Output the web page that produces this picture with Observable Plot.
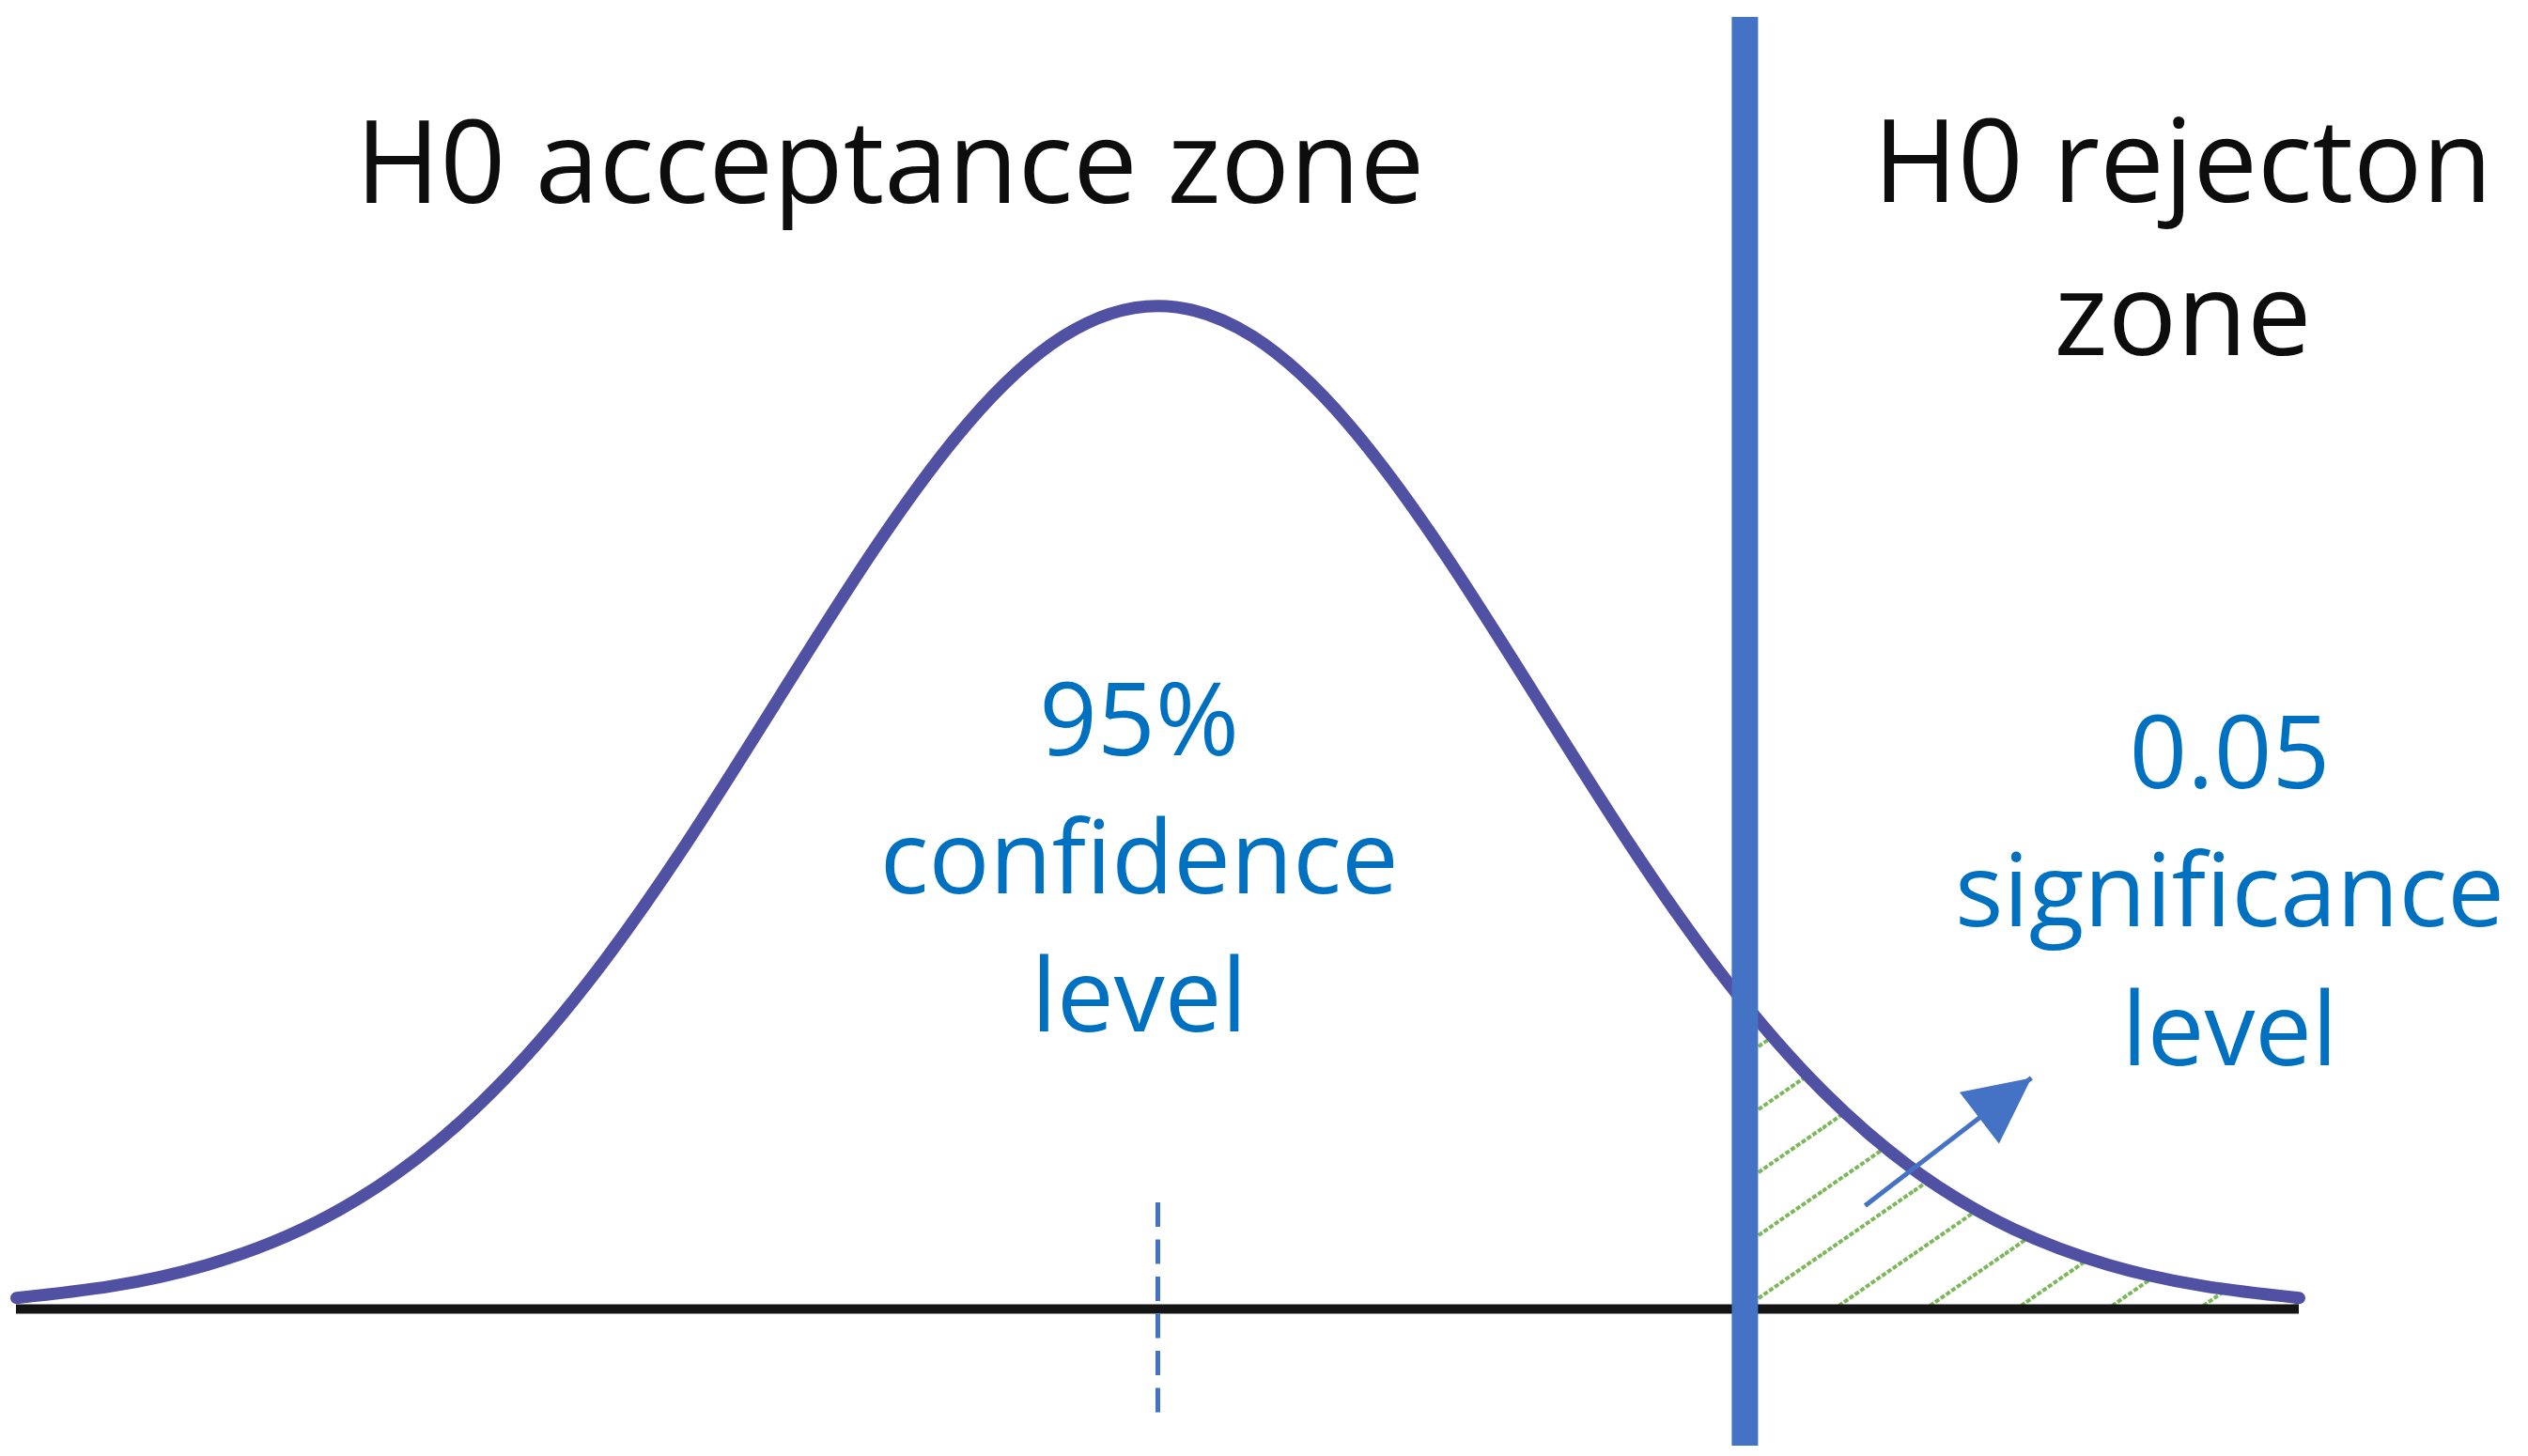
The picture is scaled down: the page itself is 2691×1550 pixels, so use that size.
<!DOCTYPE html>
<html>
<head>
<meta charset="utf-8">
<script src="https://cdn.jsdelivr.net/npm/d3@7"></script>
<script src="https://cdn.jsdelivr.net/npm/@observablehq/plot@0.6"></script>
<style>
  html, body { margin: 0; padding: 0; background: #ffffff; overflow: hidden; }
</style>
</head>
<body>
<div id="chart"></div>
<script>
// ---- data ----
const curveZ = [-3, -2.75, -2.5, -2.25, -2, -1.75, -1.5, -1.25, -1, -0.75, -0.5, -0.25, 0,
                0.25, 0.5, 0.75, 1, 1.25, 1.5, 1.75, 2, 2.25, 2.5, 2.75, 3];
const curveDensity = [0.0044, 0.0091, 0.0175, 0.0317, 0.0540, 0.0863, 0.1295, 0.1826, 0.2420, 0.3011, 0.3521, 0.3867, 0.3989,
                      0.3867, 0.3521, 0.3011, 0.2420, 0.1826, 0.1295, 0.0863, 0.0540, 0.0317, 0.0175, 0.0091, 0.0044];
const criticalZ = 1.543;            // boundary between acceptance and rejection zones
const meanZ = 0;                    // centre of the distribution (dashed marker)
const meanMarkSpan = [0.0422, -0.0418];
const criticalSpan = [0.5136, -0.0545];
const zRange = [-3, 3];

const blackLabels = ["H0 acceptance zone", "H0 rejecton\nzone"];
const blackLabelZ = [-0.704, 2.694];
const blackLabelY = [0.4400, 0.3792];

const blueLabels = ["95%\nconfidence\nlevel", "0.05\nsignificance\nlevel"];
const blueLabelZ = [-0.049, 2.817];
const blueLabelY = [0.1102, 0.0971];

const arrowFrom = [1.859, 0.0411];
const arrowTo = [2.296, 0.0919];

// ---- tables built from the arrays ----
const curve = curveZ.map((z, i) => ({z, density: curveDensity[i]}));
const blackText = blackLabels.map((t, i) => ({t, z: blackLabelZ[i], y: blackLabelY[i]}));
const blueText = blueLabels.map((t, i) => ({t, z: blueLabelZ[i], y: blueLabelY[i]}));
const arrow = [{x1: arrowFrom[0], y1: arrowFrom[1], x2: arrowTo[0], y2: arrowTo[1]}];

const W = 2691, H = 1550;
const FONT = "'Open Sans', 'Noto Sans', sans-serif";

function filledHead(color, context) {
  const doc = (context && context.document) || document;
  const ns = "http://www.w3.org/2000/svg";
  const m = doc.createElementNS(ns, "marker");
  m.setAttribute("viewBox", "-70 -35 70 70");
  m.setAttribute("markerUnits", "userSpaceOnUse");
  m.setAttribute("markerWidth", 70);
  m.setAttribute("markerHeight", 70);
  m.setAttribute("refX", 0);
  m.setAttribute("refY", 0);
  m.setAttribute("orient", "auto");
  m.setAttribute("overflow", "visible");
  const p = doc.createElementNS(ns, "path");
  p.setAttribute("d", "M0,0L-70,-34.5L-70,34.5Z");
  p.setAttribute("fill", color);
  p.setAttribute("stroke", "none");
  m.appendChild(p);
  return m;
}

const plot = Plot.plot({
  width: W,
  height: H,
  margin: 0,
  x: {domain: zRange, range: [17, 2447], axis: null},
  y: {domain: [0, 0.4], range: [1393, 322.2], axis: null},
  style: {background: "#ffffff", maxWidth: "none", fontFamily: FONT, overflow: "visible"},
  marks: [
    Plot.areaY(curve, {x: "z", y: "density", curve: "natural", fill: "#7cb85a"}),
    Plot.ruleY([0], {x1: zRange[0], x2: zRange[1], stroke: "#141414", strokeWidth: 10}),
    Plot.line(curve, {x: "z", y: "density", curve: "natural", stroke: "#5151a3", strokeWidth: 13}),
    Plot.ruleX([meanZ], {y1: meanMarkSpan[0], y2: meanMarkSpan[1], stroke: "#4472c4", strokeWidth: 5, strokeDasharray: "26,13.5"}),
    Plot.ruleX([criticalZ], {y1: criticalSpan[0], y2: criticalSpan[1], stroke: "#4472c4", strokeWidth: 28}),
    Plot.link(arrow, {x1: "x1", y1: "y1", x2: "x2", y2: "y2", stroke: "#4472c4", strokeWidth: 5, markerEnd: filledHead}),
    Plot.text(blackText, {x: "z", y: "y", text: "t", fill: "#0d0d0d", fontSize: 122, lineHeight: 1.34, lineAnchor: "bottom", textAnchor: "middle", fontFamily: FONT}),
    Plot.text(blueText, {x: "z", y: "y", text: "t", fill: "#0070c0", fontSize: 108, lineHeight: 1.365, lineAnchor: "bottom", textAnchor: "middle", fontFamily: FONT})
  ]
});

// hatch pattern and clip of the rejection tail
const svg = d3.select(plot);
const defs = svg.insert("defs", ":first-child");
const pat = defs.append("pattern")
  .attr("id", "hatch")
  .attr("patternUnits", "userSpaceOnUse")
  .attr("width", 97).attr("height", 67)
  .attr("x", 0).attr("y", -5);
pat.append("path")
  .attr("d", "M0,0L97,-67M0,67L97,0M0,134L97,67")
  .attr("stroke", "#7cb85a")
  .attr("stroke-width", 4)
  .attr("stroke-dasharray", "5,2")
  .attr("fill", "none");
const xs = plot.scale("x");
const tailStart = xs.apply(criticalZ) + 14;
defs.append("clipPath").attr("id", "tailclip")
  .append("rect")
  .attr("x", tailStart).attr("y", 0)
  .attr("width", W - tailStart).attr("height", H);
const areaGroup = svg.selectAll('g[aria-label="area"]');
areaGroup.attr("fill", "url(#hatch)").attr("clip-path", "url(#tailclip)");
areaGroup.selectAll("path").attr("fill", "url(#hatch)");

document.getElementById("chart").appendChild(plot);
</script>
</body>
</html>
